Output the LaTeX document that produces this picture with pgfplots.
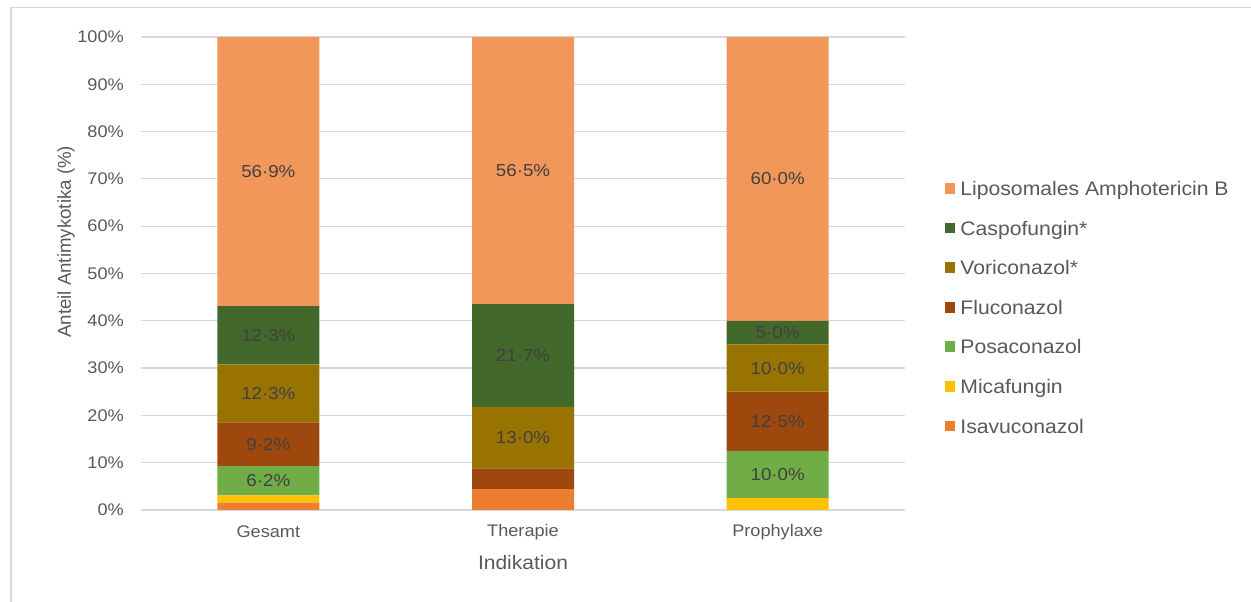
\documentclass[border=0pt]{standalone}
\usepackage{fontspec}
\setmainfont[FakeStretch=1.08]{Liberation Sans}
\newfontfamily\plainsans{Liberation Sans}
\usepackage{pgfplots}
\usepackage{pgfplotstable}
\pgfplotsset{compat=1.18}

\definecolor{cLipo}{HTML}{F1975A}
\definecolor{cCaspo}{HTML}{43682B}
\definecolor{cVori}{HTML}{997300}
\definecolor{cFlu}{HTML}{9E480E}
\definecolor{cPosa}{HTML}{70AD47}
\definecolor{cMica}{HTML}{FFC000}
\definecolor{cIsa}{HTML}{ED7D31}
\definecolor{txt}{HTML}{595959}
\definecolor{lbl}{HTML}{404040}
\definecolor{gridc}{HTML}{D9D9D9}

% x: 0 = Gesamt, 1 = Therapie, 2 = Prophylaxe; y in %; show = value label printed
\pgfplotstableread{
x y show
0 1.55 0
1 4.4 0
2 0 0
}\tIsa
\pgfplotstableread{
x y show
0 1.55 0
1 0 0
2 2.5 0
}\tMica
\pgfplotstableread{
x y show
0 6.2 1
1 0 0
2 10.0 1
}\tPosa
\pgfplotstableread{
x y show
0 9.2 1
1 4.4 0
2 12.5 1
}\tFlu
\pgfplotstableread{
x y show
0 12.3 1
1 13.0 1
2 10.0 1
}\tVori
\pgfplotstableread{
x y show
0 12.3 1
1 21.7 1
2 5.0 1
}\tCaspo
\pgfplotstableread{
x y show
0 56.9 1
1 56.5 1
2 60.0 1
}\tLipo

\begin{document}
\begin{tikzpicture}
\begin{scope}[x=0.75pt,y=0.75pt]
  \useasboundingbox (0,0) rectangle (1251,602);
  \draw[gridc, line width=1.1pt] (11,0) -- (11,594.5) -- (1251,594.5);
\end{scope}
\begin{axis}[
  at={(105.75pt,69pt)}, anchor=south west,
  scale only axis,
  width=573pt, height=354.75pt,
  ybar stacked, bar width=76.5pt,
  xmin=-0.5, xmax=2.5, ymin=0, ymax=100,
  xtick={0,1,2}, xticklabels={Gesamt,Therapie,Prophylaxe},
  ytick={0,10,...,100},
  /pgf/number format/assume math mode=true,
  yticklabel={\pgfmathprintnumber{\tick}\%},
  axis line style={draw=none},
  major tick length=0pt,
  ymajorgrids, grid style={gridc, line width=0.9pt},
  tick label style={font=\fontsize{12.6}{15}\selectfont, text=txt},
  yticklabel style={anchor=east, inner sep=0pt, xshift=-12.75pt},
  xticklabel style={anchor=center, inner sep=0pt, yshift=-16.5pt},
  xlabel={Indikation},
  ylabel={Anteil Antimykotika (\%)},
  xlabel style={font=\fontsize{14.6}{17}\selectfont, text=txt,
    at={(axis description cs:0.5,-0.112)}, anchor=center, inner sep=0pt},
  ylabel style={font=\plainsans\fontsize{14}{17}\selectfont, text=txt,
    at={(axis description cs:-0.0982,0.567)}, anchor=center, inner sep=0pt},
  reverse legend,
  legend cell align=left,
  legend image code/.code={\fill[#1] (0pt,-2.65pt) rectangle (8pt,5.35pt);},
  legend style={draw=none, fill=none, inner sep=0pt, outer sep=0pt,
    at={(axis description cs:1.052,0.425)}, anchor=west,
    font=\fontsize{14.7}{17}\selectfont, text=txt,
    row sep=15.7pt,
    nodes={inner sep=0pt, text height=11pt, text depth=3pt},
    /tikz/every odd column/.append style={column sep=3.75pt}},
  visualization depends on={\thisrow{show} \as \showlbl},
  visualization depends on={\thisrow{y} \as \segval},
  nodes near coords={\ifdim\showlbl pt>0.5pt \pgfmathprintnumber[fixed,fixed zerofill,precision=1,set decimal separator={·}]{\segval}\%\fi},
  every node near coord/.append style={anchor=center,
    font=\fontsize{13}{16}\selectfont, text=lbl},
]
\addplot[fill=cIsa, draw=none] table[x=x,y=y] {\tIsa};
\addlegendentry{Isavuconazol}
\addplot[fill=cMica, draw=none] table[x=x,y=y] {\tMica};
\addlegendentry{Micafungin}
\addplot[fill=cPosa, draw=none] table[x=x,y=y] {\tPosa};
\addlegendentry{Posaconazol}
\addplot[fill=cFlu, draw=none] table[x=x,y=y] {\tFlu};
\addlegendentry{Fluconazol}
\addplot[fill=cVori, draw=none] table[x=x,y=y] {\tVori};
\addlegendentry{Voriconazol*}
\addplot[fill=cCaspo, draw=none] table[x=x,y=y] {\tCaspo};
\addlegendentry{Caspofungin*}
\addplot[fill=cLipo, draw=none] table[x=x,y=y] {\tLipo};
\addlegendentry{Liposomales Amphotericin B}
\end{axis}
\end{tikzpicture}
\end{document}
